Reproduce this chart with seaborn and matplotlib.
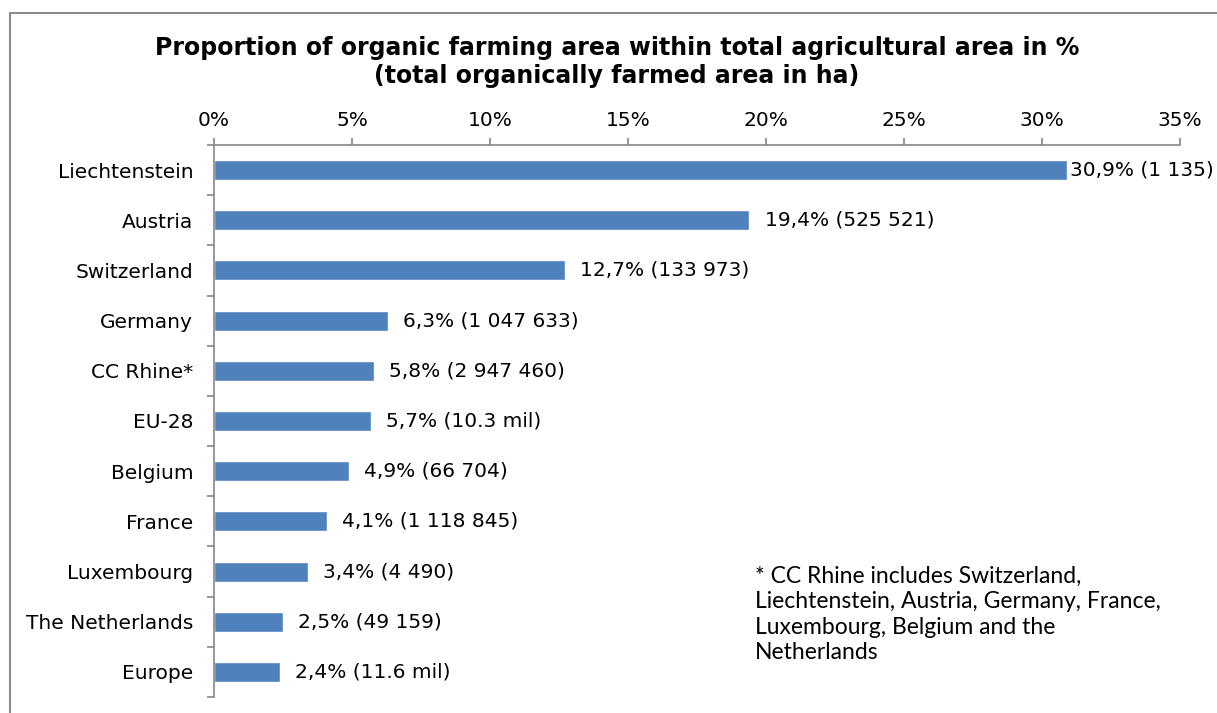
import matplotlib
matplotlib.use("Agg")
import matplotlib.pyplot as plt
import matplotlib.patches as patches
from matplotlib.ticker import FixedLocator, FuncFormatter
import seaborn as sns
import pandas as pd

# ========================== DATA ==========================
regions = ['Liechtenstein', 'Austria', 'Switzerland', 'Germany', 'CC Rhine*', 'EU-28',
           'Belgium', 'France', 'Luxembourg', 'The Netherlands', 'Europe']
share_pct = [30.9, 19.4, 12.7, 6.3, 5.8, 5.7, 4.9, 4.1, 3.4, 2.5, 2.4]
area_labels = ['30,9% (1 135)', '19,4% (525 521)', '12,7% (133 973)', '6,3% (1 047 633)',
               '5,8% (2 947 460)', '5,7% (10.3 mil)', '4,9% (66 704)', '4,1% (1 118 845)',
               '3,4% (4 490)', '2,5% (49 159)', '2,4% (11.6 mil)']
x_ticks = [0, 5, 10, 15, 20, 25, 30, 35]

df = pd.DataFrame({'region': regions, 'share': share_pct, 'label': area_labels})

# ========================== PLOT ==========================
sns.set_style('white')
plt.rcParams['font.family'] = ['DejaVu Sans']
plt.rcParams['text.color'] = 'black'
plt.rcParams['xtick.color'] = 'black'
plt.rcParams['ytick.color'] = 'black'

fig = plt.figure(figsize=(12.17, 7.13), dpi=100)
ax = fig.add_axes([214 / 1217, 1 - 697 / 713, (1180 - 214) / 1217, (697 - 145) / 713])

sns.barplot(data=df, x='share', y='region', orient='h', color='#4F81BD',
            width=0.4, saturation=1, ax=ax)

grey = '#868686'
fs = 14.5
ax.set_xlim(0, 35)
ax.set_ylim(len(regions) - 0.5, -0.5)
ax.xaxis.tick_top()
ax.xaxis.set_major_locator(FixedLocator(x_ticks))
ax.xaxis.set_major_formatter(FuncFormatter(lambda v, p: f'{v:.0f}%'))
ax.tick_params(axis='x', direction='out', length=5, width=1.2, color=grey,
               labelsize=fs, labelcolor='black', pad=6, top=True, bottom=False)
ax.set_xlabel('')
ax.set_ylabel('')

# category ticks sit on the boundaries between bars
ax.yaxis.set_minor_locator(FixedLocator([i - 0.5 for i in range(len(regions) + 1)]))
ax.tick_params(axis='y', which='major', length=0, labelsize=fs, labelcolor='black', pad=15)
ax.tick_params(axis='y', which='minor', length=5, width=1.2, color=grey, left=True)

for side in ['right', 'bottom']:
    ax.spines[side].set_visible(False)
for side in ['top', 'left']:
    ax.spines[side].set_color(grey)
    ax.spines[side].set_linewidth(1.2)

# data labels
for i, row in df.iterrows():
    off = 0.1 if i == 0 else 0.55
    ax.text(row['share'] + off, i, row['label'], va='center', ha='left',
            fontsize=fs, color='black', clip_on=False)

fig.text(617 / 1217, 1 - 48 / 713,
         'Proportion of organic farming area within total agricultural area in %',
         ha='center', va='center', fontsize=17, fontweight='bold')
fig.text(617 / 1217, 1 - 76 / 713, '(total organically farmed area in ha)',
         ha='center', va='center', fontsize=17, fontweight='bold')

fig.text(755 / 1217, 1 - 566 / 713,
         '* CC Rhine includes Switzerland,\nLiechtenstein, Austria, Germany, France,\n'
         'Luxembourg, Belgium and the\nNetherlands',
         ha='left', va='top', fontsize=16.5, family=['Lato', 'DejaVu Sans'], linespacing=1.25)

# outer chart frame
fig.patches.append(patches.Rectangle((10 / 1217, -0.05), 1.1, 1 - 13 / 713 + 0.05,
                                     transform=fig.transFigure, fill=False,
                                     edgecolor='#8C8C8C', linewidth=1.5))

plt.savefig('out.png', dpi=100)
